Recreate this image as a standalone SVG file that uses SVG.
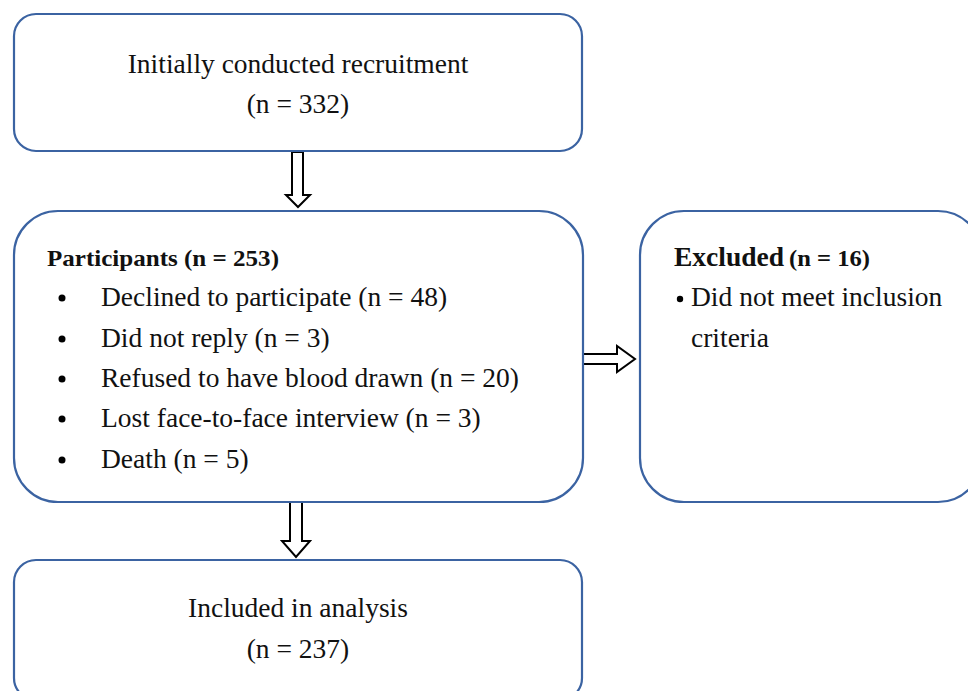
<svg xmlns="http://www.w3.org/2000/svg" width="968" height="691" viewBox="0 0 968 691">
<style>
.box{fill:#fff;stroke:#3b63a2;stroke-width:2.2}
.t{font-family:"Liberation Serif","Times New Roman",serif;font-size:27.5px;fill:#111}
.b{font-weight:bold}
.s{font-size:23px}
.arr{fill:#fff;stroke:#000;stroke-width:2;stroke-linejoin:miter}
.dot{fill:#000}
</style>
<rect width="968" height="691" fill="#fff"/>
<g id="connectors">
<path class="arr" d="M292,152 H303 V195 H310 L298,207 L286,195 H292 Z"/>
<path class="arr" d="M583,354 V364 H617 V372 L635,359 L617,346 V354 Z"/>
<path class="arr" d="M290,502 H302 V541 H310 L296,557 L282,541 H290 Z"/>
</g>
<g id="recruitment">
<rect class="box" x="14" y="14" width="568" height="137" rx="22"/>
<text class="t" x="298" y="73" text-anchor="middle">Initially conducted recruitment</text>
<text class="t" x="298" y="113" text-anchor="middle">(n = 332)</text>
</g>
<g id="participants">
<rect class="box" x="14" y="211" width="569" height="291" rx="44"/>
<text class="t b s" x="47" y="266" textLength="232" lengthAdjust="spacingAndGlyphs">Participants (n = 253)</text>
<circle class="dot" cx="62" cy="298" r="3.5"/>
<text class="t" x="101" y="306">Declined to participate (n = 48)</text>
<circle class="dot" cx="62" cy="339" r="3.5"/>
<text class="t" x="101" y="347">Did not reply (n = 3)</text>
<circle class="dot" cx="62" cy="379" r="3.5"/>
<text class="t" x="101" y="387">Refused to have blood drawn (n = 20)</text>
<circle class="dot" cx="62" cy="419" r="3.5"/>
<text class="t" x="101" y="427">Lost face-to-face interview (n = 3)</text>
<circle class="dot" cx="62" cy="460" r="3.5"/>
<text class="t" x="101" y="468">Death (n = 5)</text>
</g>
<g id="excluded">
<rect class="box" x="640" y="211" width="342" height="291" rx="44"/>
<text class="t b" x="674" y="266">Excluded</text>
<text class="t b s" x="789" y="266" textLength="81" lengthAdjust="spacingAndGlyphs">(n = 16)</text>
<circle class="dot" cx="680" cy="299" r="3.2"/>
<text class="t" x="691" y="306">Did not meet inclusion</text>
<text class="t" x="691" y="347">criteria</text>
</g>
<g id="included">
<rect class="box" x="14" y="560" width="568" height="140" rx="22"/>
<text class="t" x="298" y="617" text-anchor="middle">Included in analysis</text>
<text class="t" x="298" y="658" text-anchor="middle">(n = 237)</text>
</g>
</svg>
